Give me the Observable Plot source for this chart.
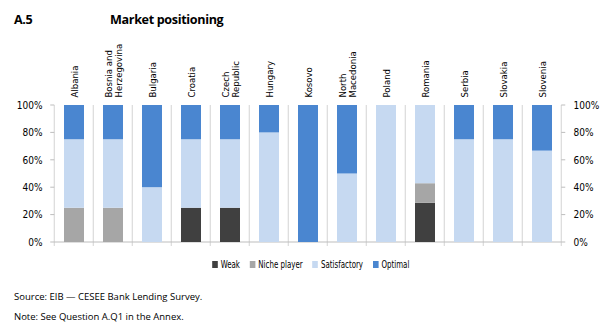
<!DOCTYPE html>
<html><head><meta charset="utf-8">
<script src="https://cdn.jsdelivr.net/npm/d3@7"></script>
<script src="https://cdn.jsdelivr.net/npm/@observablehq/plot@0.6"></script>
<style>
html,body{margin:0;padding:0;}
body{width:600px;height:333px;background:#fff;position:relative;overflow:hidden;font-family:"Liberation Sans Narrow","DejaVu Sans Condensed","Liberation Sans",sans-serif;color:#000;}
#chart{position:absolute;left:0;top:0;}
.title{position:absolute;top:11px;font-family:"Open Sans",sans-serif;font-weight:bold;font-size:12.6px;letter-spacing:-0.35px;}
#legend{position:absolute;top:259px;left:8px;width:600px;display:flex;justify-content:center;font-size:9.8px;transform:scaleX(0.8);transform-origin:313px 0;}
#legend .it{display:flex;align-items:center;margin:0 6px;}
#legend .sw{width:7px;height:7px;margin-right:4px;}
.cap{position:absolute;left:14px;font-family:"Open Sans",sans-serif;font-size:9.5px;}
</style></head><body>
<div class="title" style="left:14px">A.5</div>
<div class="title" style="left:110px">Market positioning</div>
<div id="chart"></div>
<div id="legend"></div>
<div class="cap" style="top:290px">Source: EIB — CESEE Bank Lending Survey.</div>
<div class="cap" style="top:310px">Note: See Question A.Q1 in the Annex.</div>
<script>
const countries = ["Albania","Bosnia and\nHerzegovina","Bulgaria","Croatia","Czech\nRepublic","Hungary","Kosovo","North\nMacedonia","Poland","Romania","Serbia","Slovakia","Slovenia"];
const series = ["Weak","Niche player","Satisfactory","Optimal"];
const weak         = [0, 0, 0, 25, 25, 0, 0, 0, 0, 28.6, 0, 0, 0];
const niche        = [25, 25, 0, 0, 0, 0, 0, 0, 0, 14.3, 0, 0, 0];
const satisfactory = [50, 50, 40, 50, 50, 80, 0, 50, 100, 57.1, 75, 75, 66.7];
const optimal      = [25, 25, 60, 25, 25, 20, 100, 50, 0, 0, 25, 25, 33.3];
const colors = ["#404040", "#a6a6a6", "#c6d9f1", "#4a86d0"];
const yTicks = [0, 20, 40, 60, 80, 100];

const valuesBySeries = [weak, niche, satisfactory, optimal];
const rows = [];
countries.forEach((c, i) => series.forEach((s, j) => rows.push({country: c, series: s, value: valuesBySeries[j][i]})));

const fontFam = "'Liberation Sans Narrow','DejaVu Sans Condensed','Liberation Sans',sans-serif";

// boundaries between category cells, computed from the band scale (paddingInner 0.5, paddingOuter 0.25)
function cellEdges(x) {
  const step = x(countries[1]) - x(countries[0]);
  const edges = countries.map(c => x(c) - step / 4);
  edges.push(x(countries[countries.length - 1]) + step * 0.75);
  return edges;
}

const chart = Plot.plot({
  width: 600, height: 260,
  marginLeft: 52, marginRight: 37, marginTop: 105, marginBottom: 18,
  style: {fontFamily: fontFam, fontSize: "10px", background: "transparent", overflow: "visible"},
  x: {domain: countries, paddingInner: 0.5, paddingOuter: 0.25, axis: null},
  y: {domain: [0, 100], axis: null},
  color: {domain: series, range: colors},
  marks: [
    Plot.ruleY([0], {
      stroke: "#cfcfcf",
      render: (index, scales) => {
        const g = d3.create("svg:g");
        const y0 = scales.y(0), y1 = scales.y(100);
        const xs = cellEdges(scales.x);
        const L = xs[0], R = xs[xs.length - 1];
        xs.forEach(x => g.append("line").attr("x1", x).attr("x2", x).attr("y1", y1).attr("y2", y0 + 4).attr("stroke", "#d3d3d3").attr("stroke-width", 1));
        g.append("line").attr("x1", L).attr("x2", R).attr("y1", y0).attr("y2", y0).attr("stroke", "#bdbdbd");
        yTicks.forEach(t => {
          const y = scales.y(t);
          g.append("line").attr("x1", L - 4).attr("x2", L).attr("y1", y).attr("y2", y).attr("stroke", "#bdbdbd");
          g.append("line").attr("x1", R).attr("x2", R + 4).attr("y1", y).attr("y2", y).attr("stroke", "#bdbdbd");
        });
        return g.node();
      }
    }),
    Plot.barY(rows, {x: "country", y: "value", fill: "series", order: series}),
    Plot.text(yTicks, {y: d => d, text: d => d + "%", frameAnchor: "left", dx: -10, textAnchor: "end", fill: "#000", fontSize: 10}),
    Plot.text(yTicks, {y: d => d, text: d => d + "%", frameAnchor: "right", dx: 10, textAnchor: "start", fill: "#000", fontSize: 10}),
    Plot.text(countries, {x: d => d, text: d => d, frameAnchor: "top", dy: -8, rotate: -90, textAnchor: "start", lineAnchor: "middle", fontSize: 9.5, fill: "#000", lineHeight: 1.05})
  ]
});
document.getElementById("chart").append(chart);

const legend = document.getElementById("legend");
series.forEach((s, j) => {
  const it = document.createElement("div"); it.className = "it";
  const sw = document.createElement("div"); sw.className = "sw"; sw.style.background = colors[j];
  const t = document.createElement("span"); t.textContent = s;
  it.append(sw, t); legend.append(it);
});
</script>
</body></html>
